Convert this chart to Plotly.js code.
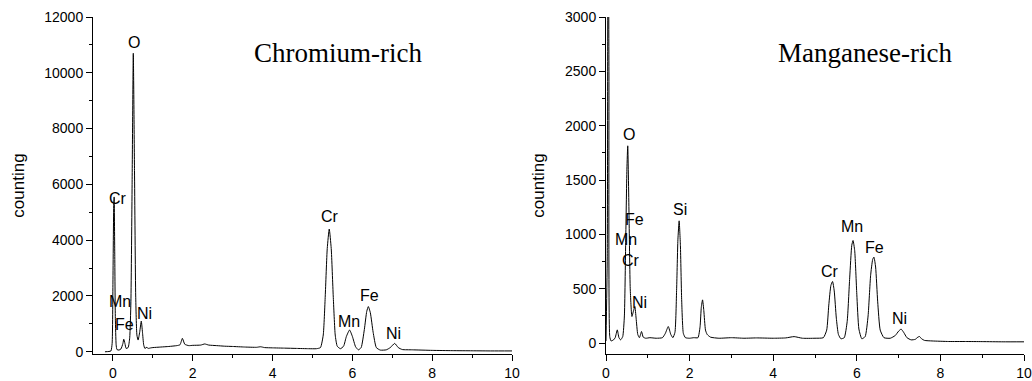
<!DOCTYPE html>
<html>
<head>
<meta charset="utf-8">
<script src="https://cdn.plot.ly/plotly-3.0.1.min.js"></script>
<style>html,body{margin:0;padding:0;background:#fff;}#chart{width:1032px;height:381px;}</style>
</head>
<body>
<div id="chart"></div>
<script>
// Chromium-rich spectrum (energy keV, counts)
const crEnergy = [-0.2,-0.1,-0.05,-0.02,0.0,0.02,0.03,0.045,0.06,0.08,0.1,0.15,0.2,0.25,0.27,0.3,0.33,0.38,0.42,0.45,0.48,0.51,0.54,0.57,0.6,0.63,0.67,0.71,0.74,0.77,0.8,0.85,0.88,0.95,1.0,1.2,1.4,1.6,1.68,1.74,1.8,1.9,2.0,2.2,2.3,2.4,2.6,2.8,3.0,3.3,3.6,3.7,3.8,4.0,4.3,4.6,4.9,5.1,5.2,5.27,5.32,5.37,5.42,5.47,5.52,5.57,5.62,5.7,5.78,5.85,5.93,6.0,6.08,6.15,6.22,6.3,6.36,6.4,6.45,6.52,6.6,6.7,6.85,6.95,7.06,7.15,7.25,7.5,8.0,8.5,9.0,9.5,10.0];
const crCounts = [0,10,30,300,2500,5300,5550,3500,1200,250,80,60,100,300,450,300,120,150,500,1800,6000,10700,6500,2000,600,420,700,1100,700,250,120,160,120,140,150,170,190,220,250,480,270,220,230,240,280,240,220,200,190,170,160,180,150,140,130,120,110,110,150,600,2000,3700,4400,3700,2000,600,200,110,200,550,780,550,180,70,150,800,1450,1620,1400,700,150,60,70,150,300,150,80,70,50,40,35,30,30];

// Manganese-rich spectrum (energy keV, counts)
const mnEnergy = [0.0,0.03,0.05,0.07,0.09,0.12,0.18,0.22,0.27,0.31,0.35,0.4,0.44,0.47,0.5,0.52,0.55,0.58,0.62,0.66,0.69,0.72,0.76,0.8,0.85,0.89,0.95,1.05,1.2,1.35,1.42,1.49,1.55,1.6,1.65,1.69,1.72,1.75,1.78,1.81,1.85,1.9,2.0,2.1,2.2,2.25,2.28,2.31,2.34,2.38,2.42,2.5,2.7,3.0,3.3,3.6,4.0,4.3,4.5,4.7,5.0,5.2,5.28,5.33,5.38,5.42,5.46,5.51,5.56,5.62,5.7,5.77,5.83,5.88,5.91,5.95,6.0,6.05,6.12,6.2,6.27,6.33,6.38,6.41,6.45,6.5,6.56,6.65,6.8,6.92,7.0,7.06,7.12,7.2,7.3,7.4,7.46,7.5,7.55,7.62,7.8,8.2,8.6,9.0,9.5,10.0];
const mnCounts = [20,800,5000,2500,60,20,30,50,122,50,30,60,250,900,1600,1815,1200,500,245,300,337,230,80,50,107,55,45,50,45,50,90,153,80,50,100,500,950,1125,900,400,90,50,45,50,50,150,330,398,300,120,80,55,45,50,45,48,45,48,60,45,45,50,120,350,530,567,480,230,80,40,50,200,600,900,944,850,450,130,40,60,250,620,770,791,700,380,120,50,45,70,110,129,100,50,30,35,55,61,40,25,20,15,15,14,12,12];

// Peak labels
const crLabels = ['O','Cr','Mn','Fe','Ni','Cr','Mn','Fe','Ni'];
const crLabelX = [0.52,0.12,0.18,0.30,0.79,5.43,5.91,6.42,7.04];
const crLabelY = [11100,5490,1820,985,1380,4860,1080,2000,660];
const mnLabels = ['O','Fe','Mn','Cr','Ni','Si','Cr','Mn','Fe','Ni'];
const mnLabelX = [0.55,0.69,0.48,0.60,0.80,1.77,5.35,5.88,6.42,7.03];
const mnLabelY = [1916,1140,957,757,374,1226,659,1073,883,230];

const panelTitles = ['Chromium-rich','Manganese-rich'];
const yTitle = 'counting';

const sans = 'Arial, Liberation Sans, sans-serif';
const tickFont = {family:sans, size:14, color:'#000'};
const labelFont = {family:sans, size:16, color:'#000'};

function xAxis(domain, range, anchor){
  return {domain:domain, range:range, anchor:anchor, showgrid:false, zeroline:false,
    showline:true, linecolor:'#000', linewidth:1, ticks:'outside', ticklen:6, tickwidth:1, tickcolor:'#000',
    tick0:0, dtick:2, tickfont:tickFont, tickformat:'d',
    minor:{ticks:'outside', ticklen:3, tickwidth:1, tickcolor:'#000', dtick:1, tick0:0, showgrid:false}};
}
function yAxis(domain, range, dtick, anchor, standoff){
  return {domain:domain, range:range, anchor:anchor, showgrid:false, zeroline:false,
    showline:true, linecolor:'#000', linewidth:1, ticks:'outside', ticklen:6, tickwidth:1, tickcolor:'#000',
    tick0:0, dtick:dtick, tickfont:tickFont, tickformat:'d',
    minor:{ticks:'outside', ticklen:3, tickwidth:1, tickcolor:'#000', dtick:dtick/2, tick0:0, showgrid:false},
    title:{text:yTitle, font:{family:sans, size:17, color:'#000'}, standoff:standoff}};
}

const traces = [
  {x:crEnergy, y:crCounts, xaxis:'x', yaxis:'y', mode:'lines', line:{color:'#000', width:1, shape:'spline', smoothing:0.5}, showlegend:false, hoverinfo:'x+y'},
  {x:mnEnergy, y:mnCounts, xaxis:'x2', yaxis:'y2', mode:'lines', line:{color:'#000', width:1, shape:'spline', smoothing:0.5}, showlegend:false, hoverinfo:'x+y'}
];

const annotations = [];
crLabels.forEach((t,i)=>annotations.push({x:crLabelX[i], y:crLabelY[i], xref:'x', yref:'y', text:t, showarrow:false, font:labelFont}));
mnLabels.forEach((t,i)=>annotations.push({x:mnLabelX[i], y:mnLabelY[i], xref:'x2', yref:'y2', text:t, showarrow:false, font:labelFont}));
annotations.push({x:338/1032, y:1-53/381, xref:'paper', yref:'paper', xanchor:'center', yanchor:'middle', text:panelTitles[0], showarrow:false,
  font:{family:'Times New Roman, Liberation Serif, serif', size:27, color:'#000'}});
annotations.push({x:865/1032, y:1-53/381, xref:'paper', yref:'paper', xanchor:'center', yanchor:'middle', text:panelTitles[1], showarrow:false,
  font:{family:'Times New Roman, Liberation Serif, serif', size:27, color:'#000'}});

const yDom = [1-354/381, 1-17/381];
const layout = {
  width:1032, height:381, margin:{l:0, r:0, t:0, b:0},
  paper_bgcolor:'#fff', plot_bgcolor:'#fff',
  xaxis: xAxis([93/1032, 512/1032], [-0.5, 10], 'y'),
  yaxis: yAxis(yDom, [-80, 12000], 2000, 'x', 15),
  xaxis2: xAxis([606/1032, 1024/1032], [0, 10], 'y2'),
  yaxis2: yAxis(yDom, [-100, 3000], 500, 'x2', 16),
  annotations: annotations,
  showlegend:false
};

Plotly.newPlot('chart', traces, layout, {displayModeBar:false, staticPlot:true});
</script>
</body>
</html>
